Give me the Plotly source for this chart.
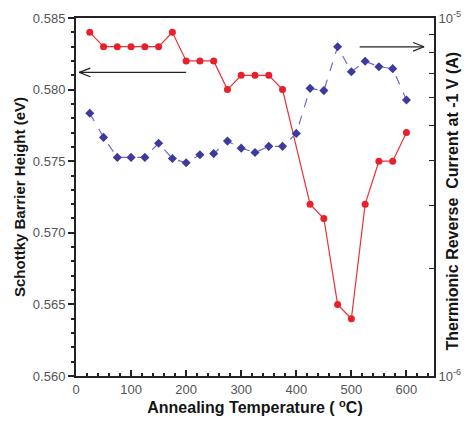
import plotly.graph_objects as go

# Annealing temperatures (°C)
temp_barrier = [25, 50, 75, 100, 125, 150, 175, 200, 225, 250, 275, 300, 325, 350, 375,
                425, 450, 475, 500, 525, 550, 575, 600]
barrier_height = [0.584, 0.583, 0.583, 0.583, 0.583, 0.583, 0.584, 0.582, 0.582, 0.582,
                  0.580, 0.581, 0.581, 0.581, 0.580,
                  0.572, 0.571, 0.565, 0.564, 0.572, 0.575, 0.575, 0.577]

temp_current = [25, 50, 75, 100, 125, 150, 175, 200, 225, 250, 275, 300, 325, 350, 375,
                400, 425, 450, 475, 500, 525, 550, 575, 600]
reverse_current = [5.42e-6, 4.64e-6, 4.08e-6, 4.08e-6, 4.08e-6, 4.47e-6, 4.05e-6, 3.94e-6,
                   4.15e-6, 4.18e-6, 4.53e-6, 4.33e-6, 4.21e-6, 4.38e-6, 4.38e-6, 4.76e-6,
                   6.36e-6, 6.27e-6, 8.31e-6, 7.08e-6, 7.57e-6, 7.31e-6, 7.22e-6, 5.90e-6]

x_ticks = [0, 100, 200, 300, 400, 500, 600]
y_ticks = [0.560, 0.565, 0.570, 0.575, 0.580, 0.585]
log_major = [1e-6, 1e-5]
log_labels = ["10<sup>-6</sup>", "10<sup>-5</sup>"]
log_minor = [2e-6, 3e-6, 4e-6, 5e-6, 6e-6, 7e-6, 8e-6, 9e-6]

FONT = "Liberation Sans, Arial, sans-serif"
TICK_COLOR = "#555555"
TITLE_COLOR = "#151515"

fig = go.Figure()

fig.add_trace(go.Scatter(
    x=temp_current, y=reverse_current, yaxis="y2", mode="lines+markers",
    line=dict(color="#6e6ccc", width=1.2, dash="dash"),
    marker=dict(symbol="diamond", size=7, color="#3c3a9c"),
    showlegend=False,
))
fig.add_trace(go.Scatter(
    x=temp_barrier, y=barrier_height, mode="lines+markers",
    line=dict(color="#e8323a", width=1.2),
    marker=dict(symbol="circle", size=7, color="#e8202a"),
    showlegend=False,
))

# Direction arrows pointing to each series' axis (open chevron heads)
def open_arrow(x0, x1, y, head_dx, head_dy):
    shapes = [dict(type="line", xref="x", yref="y", x0=x0, x1=x1, y0=y, y1=y,
                   line=dict(color="#222222", width=1.2))]
    sgn = 1 if x1 > x0 else -1
    for d in (head_dy, -head_dy):
        shapes.append(dict(type="line", xref="x", yref="y",
                           x0=x1 - sgn * head_dx, x1=x1, y0=y + d, y1=y,
                           line=dict(color="#222222", width=1.2)))
    return shapes

shapes = open_arrow(200, 6, 0.5812, 20, 0.0003) + open_arrow(515, 632, 0.58299, 20, 0.0003)

axis_common = dict(showline=True, linecolor="#222222", linewidth=2, showgrid=False,
                   zeroline=False, automargin=False,
                   tickfont=dict(family=FONT, size=13, color=TICK_COLOR),
                   tickcolor="#222222")

fig.update_layout(
    width=464, height=426,
    margin=dict(l=76, r=30, t=18, b=50),
    paper_bgcolor="white", plot_bgcolor="white",
    shapes=shapes,
    xaxis=dict(
        range=[0, 650], tickvals=x_ticks, ticks="inside", ticklen=6, tickwidth=1.5,
        minor=dict(dtick=20, tick0=0, ticks="inside", ticklen=3, tickcolor="#222222"),
        mirror=True,
        title=dict(text="<b>Annealing Temperature ( <sup>o</sup>C)</b>",
                   font=dict(family=FONT, size=16, color=TITLE_COLOR), standoff=6),
        **axis_common,
    ),
    yaxis=dict(
        range=[0.560, 0.585], tickvals=y_ticks, tickformat=".3f", ticks="outside",
        ticklen=6, tickwidth=1.5,
        minor=dict(dtick=0.001, tick0=0.560, ticks="outside", ticklen=3, tickcolor="#222222"),
        title=dict(text="<b>Schottky Barrier Height (eV)</b>",
                   font=dict(family=FONT, size=15, color=TITLE_COLOR), standoff=4),
        **axis_common,
    ),
    yaxis2=dict(
        type="log", range=[-6, -5], overlaying="y", side="right",
        tickvals=log_major, ticktext=log_labels, ticks="inside", ticklen=5, tickwidth=1.2,
        minor=dict(tickmode="array", tickvals=log_minor, ticks="inside", ticklen=5,
                   tickcolor="#222222"),
        **axis_common,
    ),
    annotations=[dict(
        text="<b>Thermionic Reverse  Current at -1 V (A)</b>",
        xref="paper", yref="paper", x=1.053, y=0.49, textangle=-90, showarrow=False,
        xanchor="center", yanchor="middle",
        font=dict(family=FONT, size=16, color=TITLE_COLOR),
    )],
)

fig.write_html("out.html")
